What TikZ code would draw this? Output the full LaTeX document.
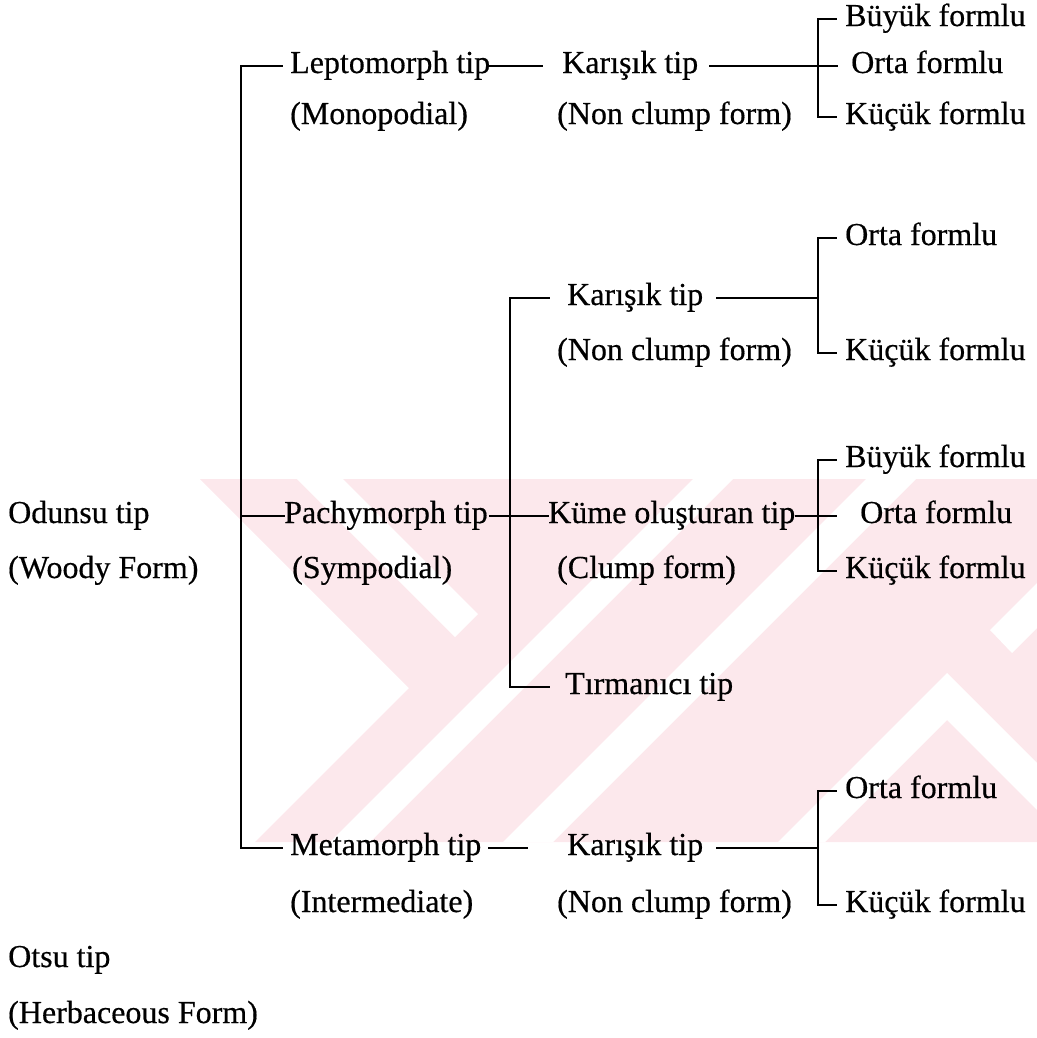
\documentclass[tikz,border=0pt]{standalone}
\usepackage{fontspec}
\setmainfont{Liberation Serif}[BoldFont=Liberation Serif, BoldFeatures={FakeBold=0.45}]
\definecolor{wmpink}{RGB}{252,232,236}
\begin{document}
\begin{tikzpicture}[x=1bp,y=-1bp,
  lbl/.style={anchor=west, inner sep=0pt, text height=22bp, text depth=8bp,
              font=\fontsize{32bp}{38bp}\selectfont\bfseries},
  ln/.style={line width=2.6bp, line cap=rect, black}]
\useasboundingbox (0,0) rectangle (1037,1038);
% ---------- watermark ----------
\begin{scope}
  \clip (200,479) -- (1037,479) -- (1037,842) -- (255,842) -- (409,688) -- cycle;
  \fill[wmpink] (0,0) rectangle (1037,1038);
  \fill[white] (297,479) -- (343,479) -- (478,614) -- (455,637) -- cycle;
  \fill[white] (702,470) -- (742,470) -- (362,850) -- (322,850) -- cycle;
  \fill[white] (875,470) -- (925,470) -- (545,850) -- (495,850) -- cycle;
  \fill[white] (947,673) -- (1100,826) -- (1100,873) -- (947,720) -- (767,900) -- (720,900) -- cycle;
  \fill[white] (990,630) -- (1150,470) -- (1195,470) -- (1012,653) -- cycle;
\end{scope}
% ---------- texts ----------
\node[lbl] (odunsu) at (8,516) {Odunsu tip};
\node[lbl] (woody)  at (8,571) {(Woody Form)};
\node[lbl] (otsu)   at (8,960) {Otsu tip};
\node[lbl] (herb)   at (8,1016) {(Herbaceous Form)};
\node[lbl] (lepto)  at (290,66) {Leptomorph tip};
\node[lbl] (mono)   at (290,117) {(Monopodial)};
\node[lbl] (pachy)  at (284,516) {Pachymorph tip};
\node[lbl] (symp)   at (292,571) {(Sympodial)};
\node[lbl] (meta)   at (290,848) {Metamorph tip};
\node[lbl] (inter)  at (290,905) {(Intermediate)};
\node[lbl] (karA)   at (562,66) {Karışık tip};
\node[lbl] (ncA)    at (557,117) {(Non clump form)};
\node[lbl] (karB)   at (567,298) {Karışık tip};
\node[lbl] (ncB)    at (557,353) {(Non clump form)};
\node[lbl] (kume)   at (548,516) {Küme oluşturan tip};
\node[lbl] (clump)  at (557,571) {(Clump form)};
\node[lbl] (tirm)   at (565,687) {Tırmanıcı tip};
\node[lbl] (karD)   at (567,848) {Karışık tip};
\node[lbl] (ncD)    at (557,905) {(Non clump form)};
\node[lbl] (bA) at (845,19)  {Büyük formlu};
\node[lbl] (oA) at (851,66)  {Orta formlu};
\node[lbl] (kA) at (845,117) {Küçük formlu};
\node[lbl] (oB) at (845,238) {Orta formlu};
\node[lbl] (kB) at (845,353) {Küçük formlu};
\node[lbl] (bC) at (845,460) {Büyük formlu};
\node[lbl] (oC) at (860,516) {Orta formlu};
\node[lbl] (kC) at (845,571) {Küçük formlu};
\node[lbl] (oD) at (845,791) {Orta formlu};
\node[lbl] (kD) at (845,905) {Küçük formlu};
% ---------- bracket coordinates ----------
\coordinate (mT) at (241,66);  \coordinate (mM) at (241,516); \coordinate (mB) at (241,848);
\coordinate (pT) at (510,298); \coordinate (pB) at (510,687);
\coordinate (aT) at (818,19);  \coordinate (aB) at (818,117);
\coordinate (bT) at (818,238); \coordinate (bM) at (818,298); \coordinate (bB) at (818,353);
\coordinate (cT) at (818,460); \coordinate (cB) at (818,571);
\coordinate (dT) at (818,791); \coordinate (dM) at (818,848); \coordinate (dB) at (818,905);
% ---------- connectors ----------
\draw[ln] (mT) -- (mB);
\draw[ln] (mT) -- ([xshift=-8bp]lepto.west);
\draw[ln] (mM) -- (pachy.west);
\draw[ln] (mB) -- ([xshift=-8bp]meta.west);
\draw[ln] (pT) -- (pB);
\draw[ln] (pT) -- ([xshift=-18bp]karB.west);
\draw[ln] ([xshift=2bp]pachy.east) -- (kume.west);
\draw[ln] (pB) -- ([xshift=-16bp]tirm.west);
\draw[ln] (lepto.east) -- ([xshift=-20bp]karA.west);
\draw[ln] ([xshift=12bp]karA.east) -- ([xshift=-14bp]oA.west);
\draw[ln] (aT) -- (aB);
\draw[ln] (aT) -- ([xshift=-9bp]bA.west);
\draw[ln] (aB) -- ([xshift=-9bp]kA.west);
\draw[ln] ([xshift=14bp]karB.east) -- (bM);
\draw[ln] (bT) -- (bB);
\draw[ln] (bT) -- ([xshift=-9bp]oB.west);
\draw[ln] (bB) -- ([xshift=-9bp]kB.west);
\draw[ln] ([xshift=1bp]kume.east) -- ([xshift=-24bp]oC.west);
\draw[ln] (cT) -- (cB);
\draw[ln] (cT) -- ([xshift=-9bp]bC.west);
\draw[ln] (cB) -- ([xshift=-9bp]kC.west);
\draw[ln] ([xshift=8bp]meta.east) -- ([xshift=-40bp]karD.west);
\draw[ln] ([xshift=14bp]karD.east) -- (dM);
\draw[ln] (dT) -- (dB);
\draw[ln] (dT) -- ([xshift=-9bp]oD.west);
\draw[ln] (dB) -- ([xshift=-9bp]kD.west);
\end{tikzpicture}
\end{document}
